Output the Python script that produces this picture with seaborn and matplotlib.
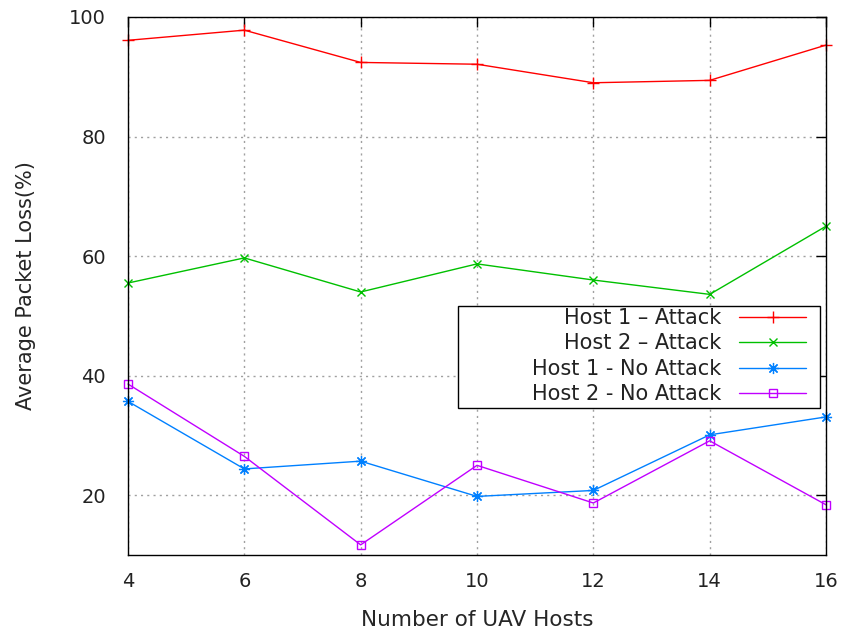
import matplotlib
matplotlib.use("Agg")
import matplotlib.pyplot as plt
from matplotlib.patches import Rectangle
import seaborn as sns
import pandas as pd

# Packet loss measurements per number of UAV hosts
hosts = [4, 6, 8, 10, 12, 14, 16]
host1_attack = [96.1, 97.8, 92.4, 92.1, 89.0, 89.4, 95.3]
host2_attack = [55.5, 59.7, 54.0, 58.7, 56.0, 53.6, 65.0]
host1_no_attack = [35.7, 24.4, 25.7, 19.8, 20.8, 30.1, 33.1]
host2_no_attack = [38.6, 26.5, 11.7, 25.0, 18.7, 29.1, 18.4]

labels = ["Host 1 \u2013 Attack", "Host 2 \u2013 Attack",
          "Host 1 - No Attack", "Host 2 - No Attack"]
series = [host1_attack, host2_attack, host1_no_attack, host2_no_attack]

sns.set_theme(style="white")
plt.rcParams["font.family"] = ["DejaVu Sans"]
plt.rcParams["text.color"] = "#222222"

fig = plt.figure(figsize=(8.42, 6.30), dpi=100)
ax = fig.add_axes([128 / 842, 1 - 555 / 630, 698 / 842, 538 / 630])

styles = [
    dict(color="#ff0000", marker="+", ms=9, mew=1.0),
    dict(color="#00c000", marker="x", ms=6, mew=1.0),
    dict(color="#0080ff", marker=(8, 2, 0), ms=8, mew=0.9),
    dict(color="#c000ff", marker="s", ms=6, mew=1.0, mfc="none"),
]

for lab, vals, st in zip(labels, series, styles):
    df = pd.DataFrame({"hosts": hosts, "loss": vals})
    sns.lineplot(data=df, x="hosts", y="loss", ax=ax, label=lab,
                 lw=1.0, mec=st["color"], clip_on=False, **st)

ax.set_xlim(4, 16)
ax.set_ylim(10, 100)
ax.set_xticks(hosts)
ax.set_yticks([20, 40, 60, 80, 100])
ax.grid(True, color="#a0a0a0", linestyle=(0, (1.5, 3)), linewidth=1.0)
ax.tick_params(direction="in", length=7, width=1, top=True, right=True,
               labelsize=14, colors="black", labelcolor="#222222")
ax.tick_params(axis="x", pad=12)
ax.tick_params(axis="y", pad=16)
for sp in ax.spines.values():
    sp.set_color("black")
    sp.set_linewidth(1.0)

ax.set_xlabel("Number of UAV Hosts", fontsize=15.5, labelpad=14)
ax.set_ylabel("Average Packet Loss(%)", fontsize=15, labelpad=24)

# Legend: boxed area with right-aligned labels and samples on the right
box = Rectangle((0.473, 0.273), 0.518, 0.19, transform=ax.transAxes,
                facecolor="white", edgecolor="black", lw=1.0, zorder=4.5)
ax.add_patch(box)
leg = ax.legend(loc="upper right", bbox_to_anchor=(0.9713, 0.459),
                markerfirst=False, frameon=False, fontsize=15,
                handlelength=3.2, labelspacing=0.26, borderpad=0,
                handletextpad=0.85, borderaxespad=0)
leg.set_zorder(5)

fig.savefig("out.png", dpi=100)
